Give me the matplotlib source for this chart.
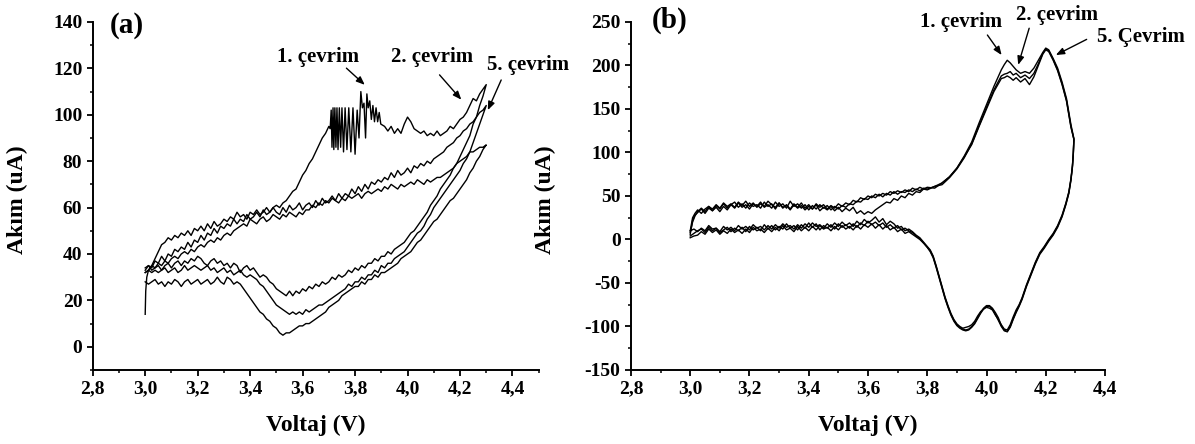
"""Cyclic voltammograms (a) and (b): current vs. voltage for several cycles."""

import matplotlib

matplotlib.use("Agg")
import matplotlib.pyplot as plt
from matplotlib.ticker import MultipleLocator


# ---------------------------------------------------------------- panel (a)
A_V = [
    3.0000, 3.0125, 3.0250, 3.0375, 3.0500, 3.0625, 3.0750, 3.0875, 3.1000, 3.1125,
    3.1250, 3.1375, 3.1500, 3.1625, 3.1750, 3.1875, 3.2000, 3.2125, 3.2250, 3.2375,
    3.2500, 3.2625, 3.2750, 3.2875, 3.3000, 3.3125, 3.3250, 3.3375, 3.3500, 3.3625,
    3.3750, 3.3875, 3.4000, 3.4125, 3.4250, 3.4375, 3.4500, 3.4625, 3.4750, 3.4875,
    3.5000, 3.5125, 3.5250, 3.5375, 3.5500, 3.5625, 3.5750, 3.5875, 3.6000, 3.6125,
    3.6250, 3.6375, 3.6500, 3.6625, 3.6750, 3.6875, 3.7000, 3.7125, 3.7250, 3.7375,
    3.7500, 3.7625, 3.7750, 3.7875, 3.8000, 3.8125, 3.8250, 3.8375, 3.8500, 3.8625,
    3.8750, 3.8875, 3.9000, 3.9125, 3.9250, 3.9375, 3.9500, 3.9625, 3.9750, 3.9875,
    4.0000, 4.0125, 4.0250, 4.0375, 4.0500, 4.0625, 4.0750, 4.0875, 4.1000, 4.1125,
    4.1250, 4.1375, 4.1500, 4.1625, 4.1750, 4.1875, 4.2000, 4.2125, 4.2250, 4.2375,
    4.2500, 4.2625, 4.2750, 4.2875, 4.3000,
]

# cycle 1 anodic sweep (with the oscillating part around 3.7-3.9 V)
A1_UP_V = [
    3.000, 3.002, 3.006, 3.0125, 3.0250, 3.0375, 3.0500, 3.0625, 3.0750, 3.0875,
    3.1000, 3.1125, 3.1250, 3.1375, 3.1500, 3.1625, 3.1750, 3.1875, 3.2000, 3.2125,
    3.2250, 3.2375, 3.2500, 3.2625, 3.2750, 3.2875, 3.3000, 3.3125, 3.3250, 3.3375,
    3.3500, 3.3625, 3.3750, 3.3875, 3.4000, 3.4125, 3.4250, 3.4375, 3.4500, 3.4625,
    3.4750, 3.4875, 3.5000, 3.5125, 3.5250, 3.5375, 3.5500, 3.5625, 3.5750, 3.5875,
    3.6000, 3.6125, 3.6250, 3.6375, 3.6500, 3.6625, 3.6750, 3.6875, 3.7000, 3.705,
    3.709, 3.712, 3.716, 3.719, 3.723, 3.727, 3.731, 3.735, 3.740, 3.745,
    3.750, 3.756, 3.762, 3.769, 3.776, 3.784, 3.792, 3.800, 3.808, 3.815,
    3.822, 3.828, 3.834, 3.840, 3.845, 3.850, 3.856, 3.862, 3.868, 3.874,
    3.880, 3.886, 3.892, 3.898, 3.9125, 3.9250, 3.9375, 3.9500, 3.9625, 3.9750,
    3.9875, 4.0000, 4.0125, 4.0250, 4.0375, 4.0500, 4.0625, 4.0750, 4.0875, 4.1000,
    4.1125, 4.1250, 4.1375, 4.1500, 4.1625, 4.1750, 4.1875, 4.2000, 4.2125, 4.2250,
    4.2375, 4.2500, 4.2625, 4.2750, 4.2875, 4.3000,
]
A1_UP_I = [
    14, 24, 30, 33, 35, 38, 41, 44, 45, 47,
    46, 48, 47, 49, 48, 50, 48, 51, 50, 52,
    50, 53, 51, 54, 52, 53, 55, 54, 56, 55,
    58, 56, 57, 55, 58, 57, 59, 57, 58, 60,
    58, 60, 61, 60, 62, 63, 65, 67, 68, 71,
    74, 76, 79, 81, 84, 87, 90, 92, 95, 94,
    102, 86, 103, 85, 103, 86, 103, 85, 103, 86,
    103, 84, 103, 85, 103, 84, 103, 83, 102, 90,
    110, 103, 105, 90, 109, 103, 106, 98, 104, 97,
    103, 97, 101, 96, 95, 93, 95, 92, 94, 92,
    96, 99, 97, 94, 93, 92, 93, 91, 92, 91,
    93, 91, 92, 93, 95, 94, 96, 98, 99, 101,
    104, 107, 106, 109, 111, 113,
]
# anodic sweeps of the later cycles, on A_V
A2_UP_I = [
    33, 35, 34, 37, 36, 39, 37, 40, 39, 42,
    41, 43, 42, 45, 43, 46, 45, 48, 46, 49,
    48, 51, 49, 52, 51, 53, 52, 55, 53, 55,
    54, 57, 55, 56, 58, 56, 59, 57, 58, 60,
    58, 57, 60, 58, 61, 59, 60, 62, 59, 61,
    62, 60, 63, 61, 64, 62, 63, 65, 63, 66,
    64, 66, 65, 68, 66, 69, 67, 70, 68, 71,
    70, 72, 71, 73, 72, 75, 73, 76, 74, 75,
    77, 75, 78, 77, 79, 78, 80, 79, 81, 82,
    83, 84, 86, 87, 88, 90, 91, 93, 94, 96,
    97, 99, 101, 102, 104,
]
A3_UP_I = [
    32, 33, 35, 34, 36, 35, 37, 36, 38, 39,
    38, 40, 41, 40, 42, 41, 43, 44, 43, 45,
    46, 45, 47, 46, 48, 49, 48, 50, 51, 52,
    53, 52, 55, 54, 53, 55, 56, 54, 55, 57,
    56, 55, 57, 56, 58, 57, 56, 58, 57, 59,
    59, 61, 60, 62, 61, 63, 62, 64, 63, 62,
    64, 63, 65, 64, 65, 66, 64, 66, 67, 66,
    67, 68, 67, 69, 68, 70, 69, 68, 70, 69,
    70, 71, 70, 72, 71, 70, 72, 71, 72, 73,
    73, 74, 75, 76, 77, 79, 80, 81, 82, 84,
    84, 85, 86, 86, 87,
]
# cathodic sweeps, from 4.3 V back down to 3.0 V (A_V reversed)
A1_DOWN_I = [
    113, 108, 104, 99, 96, 91, 88, 85, 82, 79,
    77, 74, 72, 70, 68, 65, 63, 61, 58, 56,
    54, 52, 50, 49, 47, 45, 44, 43, 42, 40,
    41, 39, 39, 37, 38, 36, 36, 34, 35, 33,
    34, 32, 33, 31, 30, 31, 29, 30, 28, 27,
    28, 26, 27, 25, 26, 24, 25, 23, 24, 22,
    24, 22, 23, 24, 25, 27, 28, 30, 31, 30,
    32, 34, 33, 35, 34, 32, 35, 36, 34, 36,
    35, 37, 36, 38, 37, 35, 36, 38, 39, 37,
    38, 36, 37, 35, 37, 36, 34, 36, 35, 33,
    35, 34, 33, 35, 34,
]
A2_DOWN_I = [
    104, 100, 96, 92, 88, 84, 81, 79, 76, 74,
    72, 70, 68, 66, 64, 62, 60, 57, 55, 52,
    50, 49, 47, 45, 43, 41, 40, 39, 38, 36,
    36, 34, 35, 32, 33, 31, 31, 29, 30, 28,
    28, 26, 27, 25, 24, 23, 22, 21, 20, 19,
    18, 18, 17, 16, 15, 16, 14, 15, 14, 15,
    14, 15, 16, 17, 18, 20, 22, 24, 26, 27,
    29, 30, 31, 30, 31, 33, 32, 31, 33, 32,
    34, 33, 32, 34, 33, 35, 34, 33, 34, 35,
    34, 33, 35, 33, 32, 34, 33, 32, 34, 33,
    32, 33, 32, 33, 32,
]
A3_DOWN_I = [
    87, 85, 82, 80, 77, 75, 72, 70, 68, 66,
    64, 63, 61, 59, 57, 55, 54, 52, 50, 48,
    46, 45, 43, 41, 40, 39, 38, 36, 35, 34,
    33, 32, 32, 30, 31, 29, 29, 27, 28, 26,
    26, 25, 24, 23, 22, 20, 19, 18, 17, 15,
    14, 13, 12, 11, 10, 10, 9, 9, 8, 7,
    6, 6, 5, 6, 8, 9, 11, 12, 14, 15,
    17, 19, 21, 23, 25, 27, 28, 27, 29, 30,
    27, 28, 30, 28, 27, 29, 28, 27, 29, 28,
    27, 29, 28, 26, 28, 29, 27, 28, 26, 28,
    27, 29, 28, 27, 28,
]

# ---------------------------------------------------------------- panel (b)
B_UP_V = [
    3.000, 3.008, 3.016, 3.025, 3.0375, 3.050, 3.0625, 3.075, 3.0875, 3.100,
    3.1125, 3.125, 3.1375, 3.150, 3.1625, 3.175, 3.1875, 3.200, 3.2125, 3.225,
    3.2375, 3.250, 3.2625, 3.275, 3.2875, 3.300, 3.3125, 3.325, 3.3375, 3.350,
    3.3625, 3.375, 3.3875, 3.400, 3.4125, 3.425, 3.4375, 3.450, 3.4625, 3.475,
    3.4875, 3.500, 3.5125, 3.525, 3.5375, 3.550, 3.5625, 3.575, 3.5875, 3.600,
    3.6125, 3.625, 3.6375, 3.650, 3.6625, 3.675, 3.6875, 3.700, 3.7125, 3.725,
    3.7375, 3.750, 3.7625, 3.775, 3.7875, 3.800, 3.825, 3.850, 3.875, 3.900,
    3.925, 3.950, 3.975, 4.000, 4.025, 4.050, 4.060, 4.070, 4.080, 4.090,
    4.100, 4.115, 4.130, 4.145, 4.160, 4.175, 4.190, 4.200, 4.210, 4.225,
    4.240, 4.255, 4.270, 4.285, 4.295,
]
B_DOWN_V = [
    4.295, 4.293, 4.290, 4.285, 4.278, 4.268, 4.255, 4.240, 4.225, 4.210,
    4.195, 4.180, 4.165, 4.150, 4.135, 4.120, 4.110, 4.100, 4.090, 4.080,
    4.070, 4.060, 4.050, 4.040, 4.030, 4.020, 4.010, 4.000, 3.990, 3.980,
    3.970, 3.960, 3.950, 3.940, 3.930, 3.920, 3.910, 3.900, 3.890, 3.880,
    3.870, 3.860, 3.850, 3.840, 3.830, 3.820, 3.810, 3.800, 3.790, 3.775,
    3.7625, 3.750, 3.7375, 3.725, 3.7125, 3.700, 3.6875, 3.675, 3.6625, 3.650,
    3.6375, 3.625, 3.6125, 3.600, 3.5875, 3.575, 3.5625, 3.550, 3.5375, 3.525,
    3.5125, 3.500, 3.4875, 3.475, 3.4625, 3.450, 3.4375, 3.425, 3.4125, 3.400,
    3.3875, 3.375, 3.3625, 3.350, 3.3375, 3.325, 3.3125, 3.300, 3.2875, 3.275,
    3.2625, 3.250, 3.2375, 3.225, 3.2125, 3.200, 3.1875, 3.175, 3.1625, 3.150,
    3.1375, 3.125, 3.1125, 3.100, 3.0875, 3.075, 3.0625, 3.050, 3.0375, 3.025,
    3.0125, 3.000,
]
B1_UP_I = [
    6, 22, 28, 31, 35, 30, 36, 33, 39, 35,
    41, 36, 40, 43, 37, 41, 36, 42, 38, 40,
    36, 43, 38, 41, 35, 42, 37, 39, 34, 40,
    36, 39, 34, 38, 35, 40, 33, 37, 34, 38,
    33, 37, 32, 36, 33, 37, 30, 33, 29, 32,
    30, 34, 37, 40, 43, 42, 47, 45, 50, 48,
    53, 51, 55, 54, 58, 57, 61, 65, 72, 82,
    96, 112, 134, 155, 176, 195, 201, 206, 203, 199,
    195, 191, 193, 191, 197, 206, 215, 220, 218, 208,
    197, 181, 162, 132, 116,
]
B2_UP_I = [
    10, 25, 30, 34, 30, 35, 38, 33, 37, 32,
    38, 34, 40, 36, 42, 37, 40, 35, 41, 38,
    43, 37, 40, 36, 43, 38, 41, 36, 44, 38,
    41, 36, 40, 34, 39, 35, 40, 36, 39, 34,
    38, 35, 39, 37, 41, 40, 44, 43, 47, 46,
    50, 48, 52, 49, 53, 51, 55, 52, 55, 54,
    57, 55, 58, 56, 59, 58, 61, 63, 71, 81,
    94, 110, 131, 152, 172, 188, 190, 191, 193, 189,
    191, 186, 189, 185, 191, 202, 214, 219, 217, 207,
    195, 179, 160, 130, 115,
]
B3_UP_I = [
    8, 20, 27, 32, 36, 32, 38, 35, 40, 36,
    42, 38, 41, 37, 43, 39, 44, 38, 42, 37,
    41, 38, 44, 40, 37, 42, 36, 40, 35, 41,
    37, 42, 36, 40, 35, 41, 37, 40, 35, 39,
    36, 41, 38, 42, 40, 45, 43, 48, 46, 50,
    48, 52, 50, 53, 51, 55, 53, 56, 54, 57,
    55, 59, 57, 60, 58, 60, 59, 65, 72, 82,
    95, 109, 130, 150, 170, 185, 186, 188, 186, 183,
    186, 181, 185, 178, 187, 200, 213, 218, 216, 206,
    194, 178, 159, 129, 115,
]
B1_DOWN_I = [
    116, 100, 85, 70, 55, 42, 28, 16, 7, 0,
    -8, -15, -26, -39, -52, -67, -75, -81, -89, -98,
    -104, -103, -98, -92, -87, -81, -79, -78, -80, -83,
    -88, -94, -98, -100, -101, -102, -100, -97, -92, -85,
    -76, -66, -54, -42, -30, -19, -12, -8, -4, 2,
    5, 9, 12, 10, 15, 13, 18, 21, 17, 24,
    20, 26, 22, 19, 23, 17, 21, 15, 19, 16,
    20, 15, 19, 14, 18, 13, 17, 15, 19, 14,
    18, 13, 17, 12, 16, 14, 18, 13, 17, 12,
    16, 11, 15, 13, 17, 11, 15, 12, 16, 10,
    14, 11, 15, 9, 13, 12, 16, 10, 13, 9,
    12, 10,
]
B2_DOWN_I = [
    115, 99, 84, 69, 54, 41, 27, 15, 6, -1,
    -9, -16, -27, -40, -53, -68, -76, -83, -91, -100,
    -106, -104, -99, -90, -84, -79, -76, -76, -79, -84,
    -90, -96, -100, -103, -104, -103, -101, -98, -93, -86,
    -77, -67, -55, -43, -31, -20, -13, -9, -5, 1,
    4, 8, 10, 13, 11, 16, 13, 17, 14, 19,
    16, 20, 17, 21, 16, 19, 14, 18, 13, 17,
    14, 18, 12, 17, 13, 16, 11, 18, 14, 19,
    13, 17, 11, 16, 13, 18, 12, 15, 11, 16,
    12, 17, 10, 14, 11, 15, 9, 14, 10, 13,
    9, 14, 11, 8, 13, 10, 14, 8, 12, 10,
    7, 4,
]
B3_DOWN_I = [
    115, 98, 83, 68, 53, 40, 26, 14, 5, -2,
    -10, -17, -28, -41, -54, -69, -77, -84, -92, -101,
    -106, -105, -100, -93, -86, -80, -77, -77, -80, -85,
    -91, -97, -101, -104, -105, -104, -102, -99, -94, -87,
    -78, -68, -56, -44, -32, -21, -14, -9, -5, 0,
    3, 6, 9, 7, 12, 9, 14, 11, 16, 12,
    17, 13, 18, 14, 17, 12, 16, 11, 15, 12,
    16, 11, 15, 10, 14, 12, 16, 11, 15, 10,
    14, 10, 15, 9, 13, 11, 16, 10, 14, 9,
    13, 8, 12, 10, 14, 8, 12, 7, 11, 8,
    12, 7, 10, 6, 11, 8, 12, 6, 9, 5,
    4, 2,
]

# ---------------------------------------------------------------- axes text
X_TICKS = [2.8, 3.0, 3.2, 3.4, 3.6, 3.8, 4.0, 4.2, 4.4]
X_TICK_LABELS = ["2,8", "3,0", "3,2", "3,4", "3,6", "3,8", "4,0", "4,2", "4,4"]
A_Y_TICKS = [0, 20, 40, 60, 80, 100, 120, 140]
B_Y_TICKS = [-150, -100, -50, 0, 50, 100, 150, 200, 250]
X_LABEL = "Voltaj (V)"
Y_LABEL = "Akım (uA)"

A_NOTES = [
    ("1. çevrim", (3.658, 124.8), (3.767, 120.1), (3.837, 112.9)),
    ("2. çevrim", (4.093, 124.8), (4.122, 117.2), (4.205, 106.5)),
    ("5. çevrim", (4.461, 121.6), (4.357, 115.0), (4.306, 102.0)),
]
B_NOTES = [
    ("1. çevrim", (3.913, 250.0), (4.003, 235.0), (4.051, 212.0)),
    ("2. çevrim", (4.237, 258.0), (4.144, 242.8), (4.107, 200.7)),
    ("5. Çevrim", (4.521, 232.4), (4.338, 230.0), (4.234, 212.0)),
]

plt.rcParams["font.family"] = ["Liberation Serif", "DejaVu Serif"]
plt.rcParams["font.weight"] = "bold"
plt.rcParams["axes.unicode_minus"] = False


def style_axis(ax, y_ticks, y_minor, xlim, ylim, ylabel_x):
    """Origin-like axis: left/bottom spines, outward ticks, comma decimals."""
    ax.set_xlim(*xlim)
    ax.set_ylim(*ylim)
    for side in ("top", "right"):
        ax.spines[side].set_visible(False)
    for side in ("left", "bottom"):
        ax.spines[side].set_linewidth(1.4)
    ax.set_xticks(X_TICKS)
    ax.set_xticklabels(X_TICK_LABELS)
    ax.set_yticks(y_ticks)
    ax.set_yticklabels([str(v) for v in y_ticks])
    ax.xaxis.set_minor_locator(MultipleLocator(0.1))
    ax.yaxis.set_minor_locator(MultipleLocator(y_minor))
    ax.tick_params(which="major", direction="out", length=4.5, width=1.3,
                   labelsize=14, pad=3)
    ax.tick_params(which="minor", direction="out", length=2.5, width=1.1)
    ax.set_xlabel(X_LABEL, fontsize=17, fontweight="bold")
    ax.set_ylabel(Y_LABEL, fontsize=17, fontweight="bold")
    ax.xaxis.set_label_coords(0.5, -0.13)
    ax.yaxis.set_label_coords(ylabel_x, 0.49)


def add_notes(ax, notes):
    for text, text_xy, tail, head in notes:
        ax.text(*text_xy, text, ha="center", va="center", fontsize=15,
                fontweight="bold")
        ax.annotate("", xy=head, xytext=tail,
                    arrowprops=dict(arrowstyle="-|>,head_length=0.5,head_width=0.2",
                                    color="black", lw=1.0,
                                    shrinkA=0, shrinkB=0))


fig = plt.figure(figsize=(11.95, 4.44), dpi=100)
ax_a = fig.add_axes([0.0776, 0.1667, 0.3732, 0.7838])
ax_b = fig.add_axes([0.5280, 0.1667, 0.3967, 0.7838])

line_kw = dict(color="black", lw=1.0)

# panel (a)
ax_a.plot(A1_UP_V + A_V[::-1], A1_UP_I + A1_DOWN_I, **line_kw)
ax_a.plot(A_V + A_V[::-1], A2_UP_I + A2_DOWN_I, **line_kw)
ax_a.plot(A_V + A_V[::-1], A3_UP_I + A3_DOWN_I, **line_kw)
style_axis(ax_a, A_Y_TICKS, 10, (2.8, 4.5), (-10, 140), -0.145)
ax_a.text(2.93, 138.5, "(a)", ha="center", va="center", fontsize=21,
          fontweight="bold")
add_notes(ax_a, A_NOTES)

# panel (b)
ax_b.plot(B_UP_V + B_DOWN_V, B1_UP_I + B1_DOWN_I, **line_kw)
ax_b.plot(B_UP_V + B_DOWN_V, B2_UP_I + B2_DOWN_I, **line_kw)
ax_b.plot(B_UP_V + B_DOWN_V, B3_UP_I + B3_DOWN_I, **line_kw)
style_axis(ax_b, B_Y_TICKS, 25, (2.8, 4.4), (-150, 250), -0.158)
ax_b.text(2.932, 252, "(b)", ha="center", va="center", fontsize=21,
          fontweight="bold")
add_notes(ax_b, B_NOTES)

fig.savefig("out.png", dpi=100)
